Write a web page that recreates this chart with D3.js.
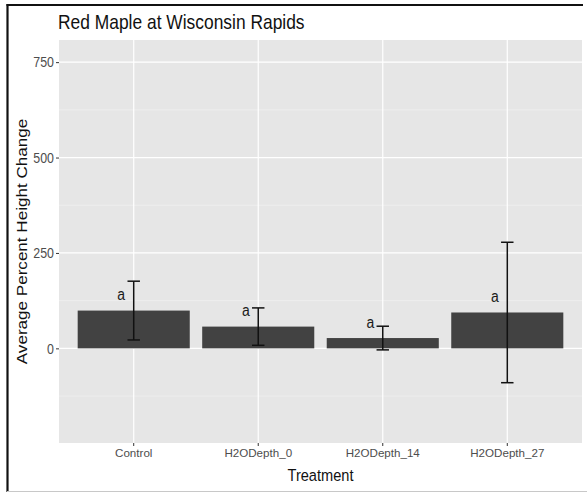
<!DOCTYPE html>
<html>
<head>
<meta charset="utf-8">
<script src="https://cdn.jsdelivr.net/npm/d3@7"></script>
<style>
  html, body { margin: 0; padding: 0; background: #fff; }
  svg { display: block; font-family: "Liberation Sans", Arial, sans-serif; }
</style>
</head>
<body>
<svg id="chart" width="587" height="493"></svg>
<script>
// Average percent height change per treatment, with error bar half-widths
const categories = ["Control", "H2ODepth_0", "H2ODepth_14", "H2ODepth_27"];
const means = [99, 57, 27, 94];
const errors = [77, 49, 31, 184];
const groupLetters = ["a", "a", "a", "a"];
const yTicks = [0, 250, 500, 750];
const yMinorTicks = [-125, 125, 375, 625];

const svg = d3.select("#chart");
const W = 587, H = 493;
const panel = { left: 59, right: 582, top: 40, bottom: 443 };
const stretch = 1.17; // text is drawn slightly taller than wide

// Frame around the figure
svg.append("rect").attr("x", 0).attr("y", 0).attr("width", W).attr("height", H).attr("fill", "#fff");
svg.append("line").attr("x1", 7.5).attr("x2", 7.5).attr("y1", 4).attr("y2", 492)
  .attr("stroke", "#111").attr("stroke-width", 2.2);
svg.append("line").attr("x1", 6.5).attr("x2", 583).attr("y1", 5).attr("y2", 5)
  .attr("stroke", "#111").attr("stroke-width", 2.2);
svg.append("line").attr("x1", 7).attr("x2", 587).attr("y1", 491.5).attr("y2", 491.5)
  .attr("stroke", "#c8c8c8").attr("stroke-width", 1);

const x = d3.scaleBand()
  .domain(categories)
  .range([panel.left, panel.right])
  .paddingInner(0.1)
  .paddingOuter(0.15);

const y = d3.scaleLinear()
  .domain([-248, 808])
  .range([panel.bottom, panel.top]);

// Panel background and grid
svg.append("rect")
  .attr("x", panel.left).attr("y", panel.top)
  .attr("width", panel.right - panel.left).attr("height", panel.bottom - panel.top)
  .attr("fill", "#e6e6e6");

const grid = svg.append("g");
grid.selectAll("line.minor").data(yMinorTicks).join("line")
  .attr("x1", panel.left).attr("x2", panel.right)
  .attr("y1", d => y(d)).attr("y2", d => y(d))
  .attr("stroke", "#f3f3f3").attr("stroke-width", 0.6);
grid.selectAll("line.major").data(yTicks).join("line")
  .attr("x1", panel.left).attr("x2", panel.right)
  .attr("y1", d => y(d)).attr("y2", d => y(d))
  .attr("stroke", "#fff").attr("stroke-width", 1.2);
grid.selectAll("line.vmajor").data(categories).join("line")
  .attr("x1", d => x(d) + x.bandwidth() / 2).attr("x2", d => x(d) + x.bandwidth() / 2)
  .attr("y1", panel.top).attr("y2", panel.bottom)
  .attr("stroke", "#fff").attr("stroke-width", 1.2);

// Bars
const rows = categories.map((c, i) => ({ c, m: means[i], e: errors[i], l: groupLetters[i] }));
svg.append("g").selectAll("rect").data(rows).join("rect")
  .attr("x", d => x(d.c))
  .attr("width", x.bandwidth())
  .attr("y", d => y(Math.max(0, d.m)))
  .attr("height", d => Math.abs(y(d.m) - y(0)))
  .attr("fill", "#424242");

// Error bars
const capHalf = x.step() * 0.05;
const eb = svg.append("g").attr("stroke", "#111").attr("stroke-width", 1.5).attr("fill", "none");
rows.forEach(d => {
  const cx = x(d.c) + x.bandwidth() / 2;
  eb.append("line").attr("x1", cx).attr("x2", cx).attr("y1", y(d.m + d.e)).attr("y2", y(d.m - d.e));
  eb.append("line").attr("x1", cx - capHalf).attr("x2", cx + capHalf).attr("y1", y(d.m + d.e)).attr("y2", y(d.m + d.e));
  eb.append("line").attr("x1", cx - capHalf).attr("x2", cx + capHalf).attr("y1", y(d.m - d.e)).attr("y2", y(d.m - d.e));
});

// Group letters
svg.append("g").selectAll("text").data(rows).join("text")
  .attr("transform", d => `translate(${x(d.c) + x.bandwidth() / 2 - x.step() * 0.1},${y(d.m + 42)}) scale(1,${stretch})`)
  .attr("dy", "0.35em")
  .attr("text-anchor", "middle")
  .attr("font-size", 14)
  .attr("fill", "#1a1a1a")
  .text(d => d.l);

// Y axis
const yAxis = svg.append("g").attr("transform", `translate(${panel.left},0)`)
  .call(d3.axisLeft(y).tickValues(yTicks).tickSize(3).tickPadding(2));
yAxis.select(".domain").remove();
yAxis.selectAll(".tick line").attr("stroke", "#333");
yAxis.selectAll(".tick text").attr("fill", "#4d4d4d").attr("font-size", 12.4)
  .attr("font-family", "Liberation Sans, Arial, sans-serif")
  .attr("transform", `scale(1,${stretch})`);

// X axis
const xAxis = svg.append("g").attr("transform", `translate(0,${panel.bottom})`)
  .call(d3.axisBottom(x).tickSize(3).tickPadding(3));
xAxis.select(".domain").remove();
xAxis.selectAll(".tick line").attr("stroke", "#333");
xAxis.selectAll(".tick text").attr("fill", "#4d4d4d").attr("font-size", 11.6)
  .attr("font-family", "Liberation Sans, Arial, sans-serif");

// Titles
svg.append("text")
  .attr("transform", `translate(58,29) scale(1,1.12)`)
  .attr("font-size", 17.4).attr("fill", "#111")
  .text("Red Maple at Wisconsin Rapids");

svg.append("text")
  .attr("transform", `translate(${(panel.left + panel.right) / 2},481) scale(1,${stretch})`)
  .attr("text-anchor", "middle").attr("font-size", 14.6).attr("fill", "#111")
  .text("Treatment");

svg.append("text")
  .attr("transform", `translate(27,${(panel.top + panel.bottom) / 2}) scale(1,${stretch}) rotate(-90)`)
  .attr("text-anchor", "middle").attr("font-size", 14.6).attr("fill", "#111")
  .text("Average Percent Height Change");
</script>
</body>
</html>
